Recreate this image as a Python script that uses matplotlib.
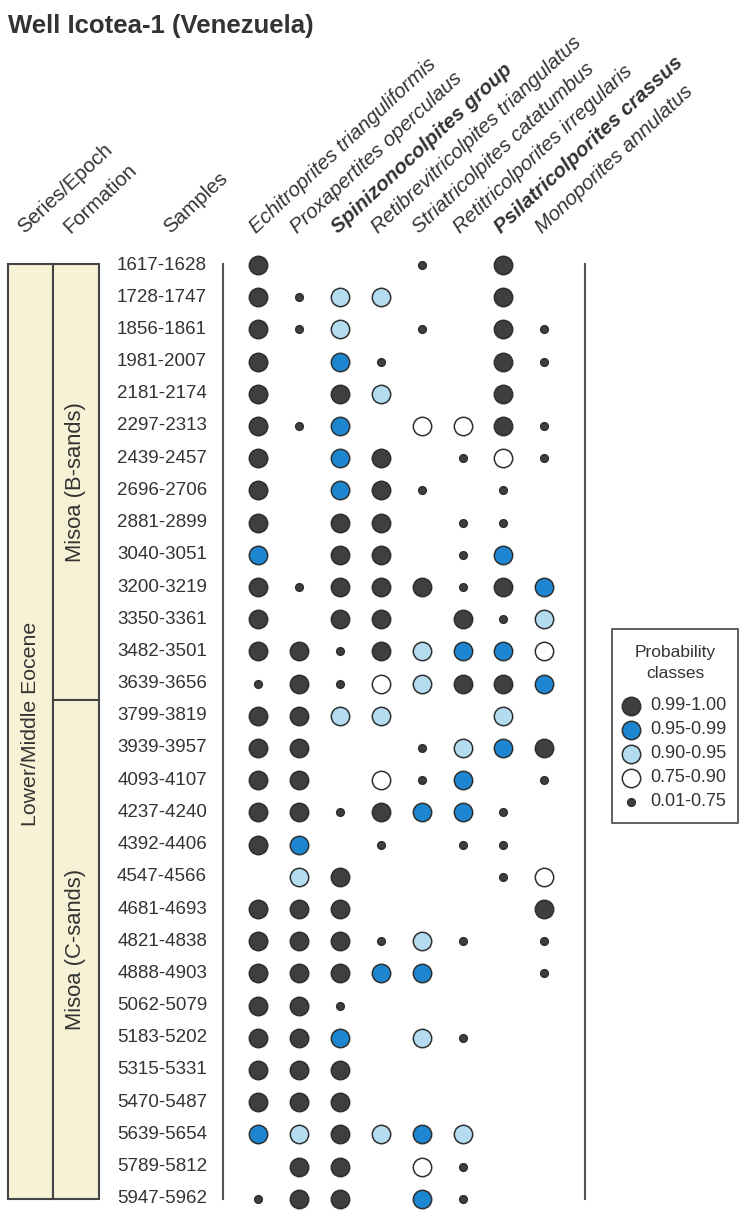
import matplotlib.pyplot as plt
from matplotlib.patches import Rectangle

plt.rcParams['font.family'] = ['Liberation Sans', 'DejaVu Sans']

samples = ['1617-1628', '1728-1747', '1856-1861', '1981-2007', '2181-2174',
           '2297-2313', '2439-2457', '2696-2706', '2881-2899', '3040-3051',
           '3200-3219', '3350-3361', '3482-3501', '3639-3656', '3799-3819',
           '3939-3957', '4093-4107', '4237-4240', '4392-4406', '4547-4566',
           '4681-4693', '4821-4838', '4888-4903', '5062-5079', '5183-5202',
           '5315-5331', '5470-5487', '5639-5654', '5789-5812', '5947-5962']

taxa = ['Echitroprites trianguliformis', 'Proxapertites operculaus',
        'Spinizonocolpites group', 'Retibrevitricolpites triangulatus',
        'Striatricolpites catatumbus', 'Retitricolporites irregularis',
        'Psilatricolporites crassus', 'Monoporites annulatus']
bold_taxa = ['Spinizonocolpites group', 'Psilatricolporites crassus']

# one character per taxon:
# A 0.99-1.00, B 0.95-0.99, C 0.90-0.95, D 0.75-0.90, e 0.01-0.75, . absent
occurrence = ['A...e.A.', 'AeCC..A.', 'AeC.e.Ae', 'A.Be..Ae', 'A.AC..A.',
              'AeB.DDAe', 'A.BA.eDe', 'A.BAe.e.', 'A.AA.ee.', 'B.AA.eB.',
              'AeAAAeAB', 'A.AA.AeC', 'AAeACBBD', 'eAeDCAAB', 'AACC..C.',
              'AA..eCBA', 'AA.DeB.e', 'AAeABBe.', 'AB.e.ee.', '.CA...eD',
              'AAA....A', 'AAAeCe.e', 'AAABB..e', 'AAe.....', 'AAB.Ce..',
              'AAA.....', 'AAA.....', 'BCACBC..', '.AA.De..', 'eAA.Be..']

class_labels = ['0.99-1.00', '0.95-0.99', '0.90-0.95', '0.75-0.90', '0.01-0.75']
class_codes = ['A', 'B', 'C', 'D', 'e']
class_colors = ['#3f3f3f', '#1d86d0', '#b4dcf1', '#ffffff', '#3f3f3f']
class_sizes = [175, 175, 175, 175, 30]

epoch = 'Lower/Middle Eocene'
formations = ['Misoa (B-sands)', 'Misoa (C-sands)']
formation_counts = [14, 16]

ink = '#333333'
cream = '#f7f1d6'

fig = plt.figure(figsize=(7.44, 12.10), dpi=100)
ax = fig.add_axes([0, 0, 1, 1])
ax.set_xlim(0, 744)
ax.set_ylim(1210, 0)
ax.axis('off')

# layout (figure pixels)
y0, dy = 265, 32.2
x0, dx = 258, 40.9
row_y = [y0 + i * dy for i in range(len(samples))]
col_x = [x0 + j * dx for j in range(len(taxa))]
top, bottom = row_y[0] - 1, row_y[-1]

ax.text(8, 33, 'Well Icotea-1 (Venezuela)', fontsize=18.5, fontweight='bold',
        color=ink, va='baseline', ha='left')

# column headers
hdr_y = 234
rot = 43
hdr_fs = 14.8
ax.text(24, hdr_y, 'Series/Epoch', rotation=rot, rotation_mode='anchor',
        fontsize=hdr_fs, color=ink)
ax.text(70, hdr_y, 'Formation', rotation=rot, rotation_mode='anchor',
        fontsize=hdr_fs, color=ink)
ax.text(170, hdr_y, 'Samples', rotation=rot, rotation_mode='anchor',
        fontsize=hdr_fs, color=ink)
for x, name in zip(col_x, taxa):
    ax.text(x - 2, hdr_y, name, rotation=rot, rotation_mode='anchor',
            fontsize=hdr_fs, style='italic', color=ink,
            fontweight='bold' if name in bold_taxa else 'normal')

# stratigraphic columns
ax.add_patch(Rectangle((8, top), 45, bottom - top, facecolor=cream,
                       edgecolor='#444444', lw=1.5))
ax.text(30.5, (top + bottom) / 2 - 8, epoch, rotation=90, ha='center',
        va='center', fontsize=15.3, color=ink)
start = 0
for name, n in zip(formations, formation_counts):
    y_a = top if start == 0 else (row_y[start - 1] + row_y[start]) / 2
    end = start + n
    y_b = bottom if end == len(samples) else (row_y[end - 1] + row_y[end]) / 2
    ax.add_patch(Rectangle((53, y_a), 46, y_b - y_a, facecolor=cream,
                           edgecolor='#444444', lw=1.5))
    ax.text(76, (y_a + y_b) / 2, name, rotation=90, ha='center', va='center',
            fontsize=15.8, color=ink)
    start = end

# sample labels and frame lines
for y, s in zip(row_y, samples):
    ax.text(207, y, s, ha='right', va='center', fontsize=13.5, color=ink)
ax.plot([223, 223], [top, bottom], color='#555555', lw=1.5)
ax.plot([585, 585], [top, bottom], color='#555555', lw=1.5)

# occurrences
for code, color, size in zip(class_codes, class_colors, class_sizes):
    xs, ys = [], []
    for y, row in zip(row_y, occurrence):
        for x, c in zip(col_x, row):
            if c == code:
                xs.append(x)
                ys.append(y)
    ax.scatter(xs, ys, s=size, c=color, edgecolors='#2e2e2e',
               linewidths=1.1, zorder=3)

# legend
ax.add_patch(Rectangle((612, 629), 126, 194, facecolor='white',
                       edgecolor='#555555', lw=1.3))
ax.text(675, 653, 'Probability', ha='center', va='center', fontsize=12.5,
        color=ink)
ax.text(675, 673, 'classes', ha='center', va='center', fontsize=12.5,
        color=ink)
for i, (lab, color, size) in enumerate(zip(class_labels, class_colors,
                                           class_sizes)):
    y = 706 + i * 24
    ax.scatter([631], [y], s=size, c=color, edgecolors='#2e2e2e',
               linewidths=1.1, zorder=3)
    ax.text(650, y, lab, ha='left', va='center', fontsize=13, color=ink)

fig.savefig('out.png', dpi=100)
